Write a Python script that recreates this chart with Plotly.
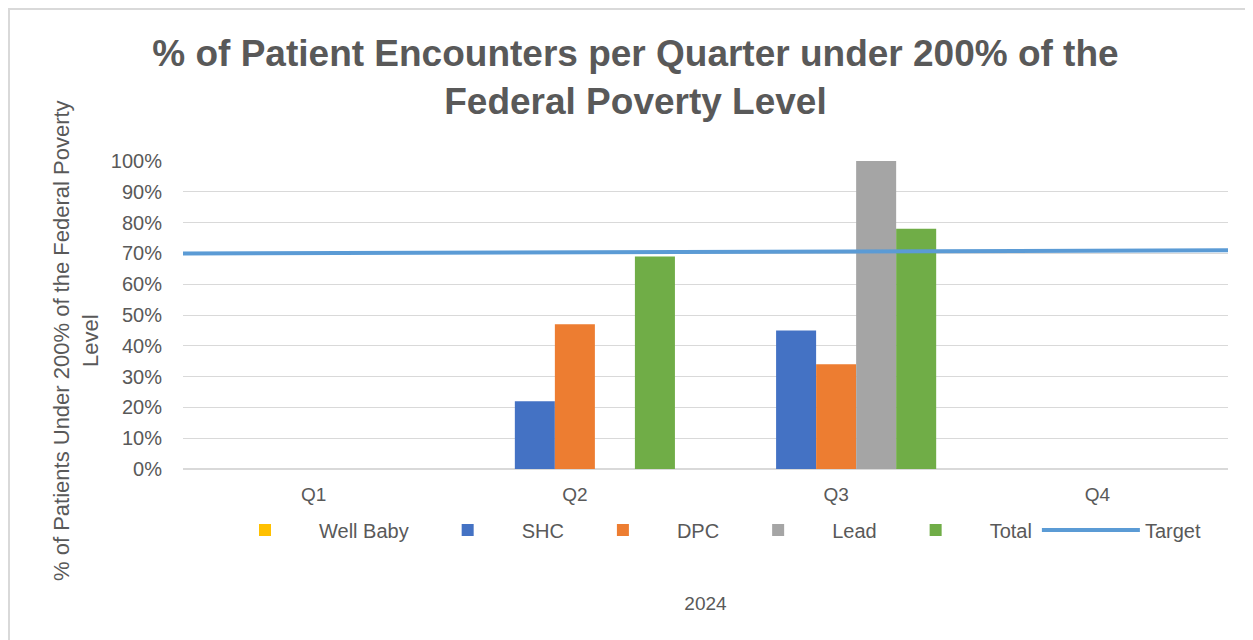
import plotly.graph_objects as go

quarters = ["Q1", "Q2", "Q3", "Q4"]
well_baby = [None, None, None, None]
shc = [None, 0.22, 0.45, None]
dpc = [None, 0.47, 0.34, None]
lead = [None, None, 1.00, None]
total = [None, 0.69, 0.78, None]
target_x = [0, 1]
target = [0.70, 0.71]

FONT = "Liberation Sans, Arial, sans-serif"
GRAY = "#595959"

fig = go.Figure()
series = [
    ("Well Baby", well_baby, "#FFC000"),
    ("SHC", shc, "#4472C4"),
    ("DPC", dpc, "#ED7D31"),
    ("Lead", lead, "#A5A5A5"),
    ("Total", total, "#70AD47"),
]
for name, vals, col in series:
    fig.add_trace(go.Bar(x=quarters, y=vals, name=name, marker=dict(color=col, line=dict(width=0))))

fig.add_trace(go.Scatter(x=target_x, y=target, name="Target", mode="lines",
                         line=dict(color="#5B9BD5", width=4), xaxis="x2"))

# page-pixel -> paper helpers (page has 8px body offset; plot spans x 183..1228, y 161..469)
def px(v):
    return (v - 183) / 1045

def py(v):
    return (469 - v) / 308

fig.update_layout(
    width=1245, height=632,
    margin=dict(l=175, r=25, t=153, b=171),
    paper_bgcolor="white", plot_bgcolor="white",
    barmode="group", bargap=0.234, bargroupgap=0,
    font=dict(family=FONT, color=GRAY, size=18),
    title=dict(text="% of Patient Encounters per Quarter under 200% of the<br>Federal Poverty Level",
               font=dict(family=FONT, size=37, color=GRAY, weight="bold"),
               x=0.504, xanchor="center", y=0.909, yanchor="top", yref="container"),
    xaxis=dict(showgrid=False, showline=False, ticks="", tickfont=dict(size=19, color=GRAY),
               ticklabelstandoff=12,
               title=dict(text="2024", font=dict(size=19, color=GRAY), standoff=92)),
    xaxis2=dict(overlaying="x", range=[0, 1], visible=False),
    yaxis=dict(range=[0, 1.0], tickformat=".0%", dtick=0.1, showgrid=True, gridcolor="#D9D9D9",
               gridwidth=1, zeroline=True, zerolinecolor="#D9D9D9", showline=False,
               tickfont=dict(size=20, color=GRAY), ticklabelstandoff=20),
    legend=dict(orientation="h", x=px(211), xanchor="left", y=py(530), yanchor="middle",
                font=dict(size=20, color=GRAY), traceorder="normal", itemwidth=98,
                bgcolor="rgba(0,0,0,0)"),
    annotations=[dict(text="% of Patients Under 200% of the Federal Poverty<br>Level",
                      textangle=-90, xref="paper", yref="paper", x=px(76), y=py(341),
                      xanchor="center", yanchor="middle", showarrow=False,
                      font=dict(size=22, color=GRAY, family=FONT))],
    shapes=[dict(type="rect", xref="paper", yref="paper", x0=px(9), x1=px(1300), y0=py(700), y1=py(9),
                 line=dict(color="#D9D9D9", width=2), fillcolor="rgba(0,0,0,0)", layer="below")],
)

fig.write_html("out.html")
